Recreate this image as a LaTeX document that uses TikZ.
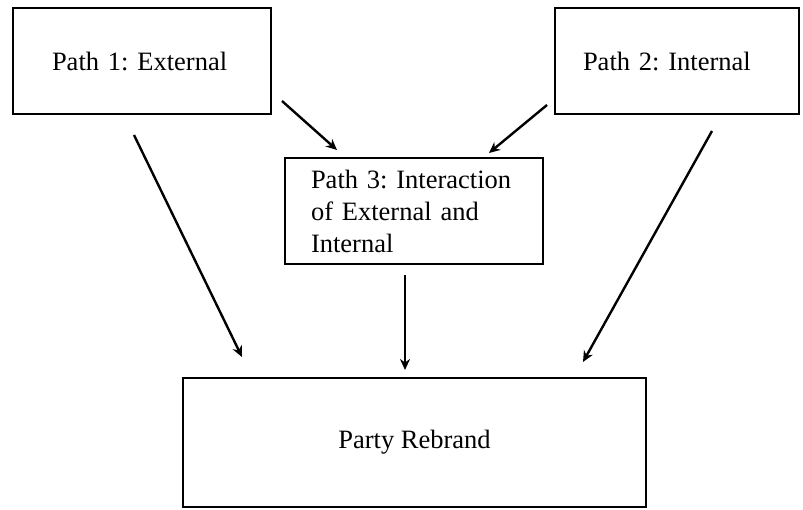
\documentclass[tikz,border=0pt]{standalone}
\usepackage{fontspec}
\setmainfont{Liberation Serif}
\usetikzlibrary{arrows.meta}
\frenchspacing
\begin{document}
\frenchspacing
\begin{tikzpicture}[x=1pt,y=-1pt,
  box/.style={draw=black, line width=2.8pt, rectangle, inner sep=0pt, align=left,
    font=\fontsize{26.5}{32}\selectfont\frenchspacing},
  arr/.style={line width=2.4pt, -{Stealth[length=11pt,width=10pt]}}]
\useasboundingbox (0,0) rectangle (803,510);
\node[box, minimum width=258pt, minimum height=106pt, text width=180pt] (p1) at (142,61) {Path 1: External};
\node[box, minimum width=244pt, minimum height=106pt, text width=188pt] (p2) at (677,61) {Path 2: Internal};
\node[box, minimum width=258pt, minimum height=106pt, text width=206pt] (p3) at (414,211) {Path 3: Interaction\\of External and\\Internal};
\node[box, minimum width=463pt, minimum height=129pt] (pr) at (414.5,442.5) {\raisebox{-5pt}{Party Rebrand}};
\coordinate (a1s) at (282,101);
\coordinate (a1e) at (337,150);
\coordinate (a2s) at (547,105);
\coordinate (a2e) at (489,153);
\coordinate (a3s) at (405,275);
\coordinate (a3e) at (405,370);
\coordinate (a4s) at (134,135);
\coordinate (a4e) at (242,357);
\coordinate (a5s) at (712,131);
\coordinate (a5e) at (583,362);
\draw[arr] (a1s) -- (a1e);
\draw[arr] (a2s) -- (a2e);
\draw[arr] (a3s) -- (a3e);
\draw[arr] (a4s) -- (a4e);
\draw[arr] (a5s) -- (a5e);
\end{tikzpicture}
\end{document}
